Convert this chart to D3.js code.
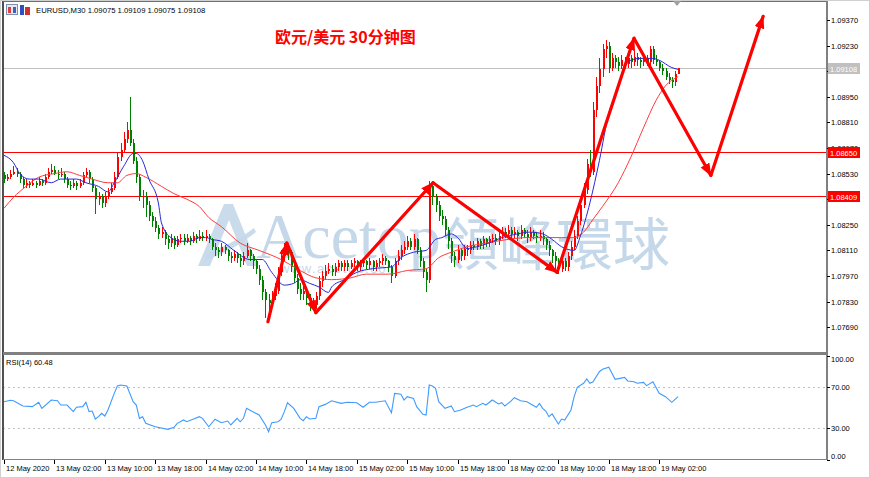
<!DOCTYPE html>
<html>
<head>
<meta charset="utf-8">
<script src="https://cdn.jsdelivr.net/npm/d3@7"></script>
<style>
  body { margin: 0; background: #fff; }
  svg { display: block; font-family: "Liberation Sans", Arial, sans-serif; }
</style>
</head>
<body>
<svg id="chart" width="870" height="478"></svg>
<script>
// ============ 数据 (EURUSD M30, 12 May 18:00 起) ============
const open = [
  1.0852,1.0850,1.0851,1.0853,1.0854,1.0853,1.0850,1.0847,1.0848,1.0847,
  1.0848,1.0847,1.0849,1.0848,1.0851,1.0854,1.0855,1.0853,1.0852,1.0853,
  1.0850,1.0847,1.0846,1.0848,1.0846,1.0848,1.0852,1.0854,1.0850,1.0845,
  1.0839,1.0841,1.0837,1.0841,1.0843,1.0845,1.0851,1.0862,1.0866,1.0872,
  1.0877,1.0870,1.0860,1.0851,1.0840,1.0841,1.0836,1.0830,1.0827,1.0823,
  1.0820,1.0821,1.0817,1.0815,1.0818,1.0814,1.0817,1.0818,1.0816,1.0818,
  1.0816,1.0819,1.0817,1.0819,1.0818,1.0819,1.0817,1.0813,1.0811,1.0810,
  1.0813,1.0811,1.0808,1.0807,1.0809,1.0807,1.0805,1.0808,1.0811,1.0808,
  1.0805,1.0801,1.0795,1.0788,1.0784,1.0782,1.0786,1.0789,1.0799,1.0808,
  1.0812,1.0810,1.0802,1.0796,1.0790,1.0787,1.0789,1.0785,1.0783,1.0781,
  1.0786,1.0794,1.0797,1.0800,1.0801,1.0799,1.0802,1.0804,1.0802,1.0804,
  1.0802,1.0804,1.0805,1.0802,1.0804,1.0805,1.0803,1.0805,1.0802,1.0804,
  1.0805,1.0807,1.0805,1.0802,1.0797,1.0805,1.0808,1.0811,1.0813,1.0816,
  1.0813,1.0817,1.0811,1.0805,1.0799,1.0795,1.0846,1.0840,1.0836,1.0830,
  1.0828,1.0822,1.0816,1.0808,1.0806,1.0811,1.0808,1.0812,1.0811,1.0814,
  1.0813,1.0816,1.0814,1.0817,1.0815,1.0817,1.0818,1.0816,1.0819,1.0821,
  1.0820,1.0822,1.0820,1.0821,1.0819,1.0822,1.0820,1.0818,1.0821,1.0819,
  1.0818,1.0819,1.0817,1.0814,1.0811,1.0808,1.0805,1.0801,1.0805,1.0802,
  1.0808,1.0813,1.0819,1.0827,1.0836,1.0844,1.0858,1.0854,1.0888,1.0901,
  1.0910,1.0921,1.0923,1.0911,1.0916,1.0914,1.0912,1.0915,1.0913,1.0916,
  1.0914,1.0917,1.0915,1.0914,1.0916,1.0914,1.0921,1.0915,1.0914,1.0911,
  1.0909,1.0906,1.0904,1.0903,1.09075
];
const high = [
  1.0854,1.0853,1.0855,1.0857,1.0856,1.0854,1.0851,1.0850,1.0849,1.0850,
  1.0849,1.0851,1.0850,1.0853,1.0856,1.0858,1.0857,1.0855,1.0856,1.0854,
  1.0851,1.0849,1.0850,1.0849,1.0850,1.0854,1.0856,1.0855,1.0851,1.0846,
  1.0843,1.0842,1.0843,1.0845,1.0848,1.0854,1.0865,1.0870,1.0876,1.0881,
  1.0895,1.0872,1.0862,1.0853,1.0844,1.0843,1.0838,1.0832,1.0829,1.0825,
  1.0824,1.0822,1.0819,1.0820,1.0819,1.0819,1.0820,1.0820,1.0820,1.0819,
  1.0821,1.0820,1.0822,1.0821,1.0822,1.0820,1.0818,1.0815,1.0813,1.0815,
  1.0814,1.0812,1.0810,1.0811,1.0810,1.0809,1.0810,1.0815,1.0812,1.0809,
  1.0806,1.0803,1.0797,1.0790,1.0787,1.0789,1.0793,1.0802,1.0811,1.0815,
  1.0814,1.0811,1.0804,1.0798,1.0793,1.0792,1.0791,1.0787,1.0785,1.0788,
  1.0797,1.0800,1.0803,1.0804,1.0803,1.0804,1.0806,1.0805,1.0806,1.0806,
  1.0806,1.0807,1.0806,1.0806,1.0807,1.0806,1.0807,1.0806,1.0806,1.0807,
  1.0809,1.0808,1.0806,1.0803,1.0807,1.0811,1.0814,1.0816,1.0819,1.0818,
  1.0820,1.0818,1.0813,1.0807,1.0801,1.0849,1.0848,1.0842,1.0838,1.0833,
  1.0830,1.0824,1.0818,1.0810,1.0814,1.0812,1.0814,1.0814,1.0816,1.0816,
  1.0818,1.0817,1.0819,1.0818,1.0819,1.0820,1.0820,1.0821,1.0824,1.0823,
  1.0825,1.0824,1.0824,1.0822,1.0825,1.0823,1.0822,1.0824,1.0822,1.0821,
  1.0822,1.0821,1.0818,1.0816,1.0812,1.0810,1.0807,1.0807,1.0807,1.0810,
  1.0816,1.0822,1.0830,1.0839,1.0848,1.0861,1.0866,1.0892,1.0906,1.0916,
  1.0924,1.0926,1.0925,1.0919,1.0918,1.0917,1.0918,1.0917,1.0920,1.0918,
  1.0920,1.0919,1.0917,1.0918,1.0918,1.0923,1.0923,1.0918,1.0915,1.0913,
  1.0911,1.0908,1.0906,1.0909,1.09109
];
const low = [
  1.0848,1.0849,1.0850,1.0852,1.0851,1.0848,1.0845,1.0845,1.0845,1.0846,
  1.0845,1.0846,1.0846,1.0847,1.0850,1.0853,1.0852,1.0850,1.0851,1.0848,
  1.0845,1.0844,1.0845,1.0844,1.0845,1.0847,1.0851,1.0848,1.0843,1.0831,
  1.0836,1.0834,1.0835,1.0839,1.0842,1.0844,1.0850,1.0860,1.0864,1.0870,
  1.0868,1.0858,1.0848,1.0838,1.0834,1.0829,1.0827,1.0824,1.0821,1.0817,
  1.0818,1.0814,1.0812,1.0813,1.0812,1.0813,1.0815,1.0814,1.0815,1.0814,
  1.0815,1.0815,1.0816,1.0816,1.0816,1.0815,1.0811,1.0808,1.0807,1.0808,
  1.0809,1.0805,1.0804,1.0805,1.0804,1.0802,1.0803,1.0807,1.0805,1.0801,
  1.0798,1.0792,1.0784,1.0774,1.0776,1.0780,1.0784,1.0787,1.0797,1.0805,
  1.0806,1.0799,1.0793,1.0787,1.0784,1.0784,1.0781,1.0778,1.0778,1.0779,
  1.0784,1.0791,1.0795,1.0798,1.0797,1.0797,1.0800,1.0800,1.0800,1.0800,
  1.0801,1.0802,1.0800,1.0800,1.0802,1.0801,1.0801,1.0800,1.0800,1.0802,
  1.0803,1.0803,1.0799,1.0793,1.0796,1.0803,1.0806,1.0809,1.0811,1.0811,
  1.0811,1.0809,1.0802,1.0796,1.0788,1.0793,1.0836,1.0832,1.0827,1.0825,
  1.0819,1.0812,1.0804,1.0802,1.0804,1.0805,1.0806,1.0808,1.0809,1.0811,
  1.0811,1.0812,1.0812,1.0813,1.0813,1.0815,1.0814,1.0814,1.0817,1.0818,
  1.0818,1.0818,1.0818,1.0816,1.0817,1.0818,1.0815,1.0816,1.0817,1.0815,
  1.0816,1.0814,1.0811,1.0808,1.0804,1.0801,1.0798,1.0799,1.0800,1.0800,
  1.0806,1.0811,1.0817,1.0825,1.0834,1.0842,1.0851,1.0852,1.0884,1.0897,
  1.0906,1.0916,1.0908,1.0909,1.0911,1.0909,1.0910,1.0910,1.0911,1.0911,
  1.0912,1.0912,1.0911,1.0912,1.0912,1.0912,1.0913,1.0912,1.0909,1.0907,
  1.0904,1.0902,1.0900,1.0901,1.09075
];
const close = [
  1.0850,1.0851,1.0853,1.0854,1.0853,1.0850,1.0847,1.0848,1.0847,1.0848,
  1.0847,1.0849,1.0848,1.0851,1.0854,1.0855,1.0853,1.0852,1.0853,1.0850,
  1.0847,1.0846,1.0848,1.0846,1.0848,1.0852,1.0854,1.0850,1.0845,1.0839,
  1.0841,1.0837,1.0841,1.0843,1.0845,1.0851,1.0862,1.0866,1.0872,1.0877,
  1.0870,1.0860,1.0851,1.0840,1.0841,1.0836,1.0830,1.0827,1.0823,1.0820,
  1.0821,1.0817,1.0815,1.0818,1.0814,1.0817,1.0818,1.0816,1.0818,1.0816,
  1.0819,1.0817,1.0819,1.0818,1.0819,1.0817,1.0813,1.0811,1.0810,1.0813,
  1.0811,1.0808,1.0807,1.0809,1.0807,1.0805,1.0808,1.0811,1.0808,1.0805,
  1.0801,1.0795,1.0788,1.0784,1.0782,1.0786,1.0789,1.0799,1.0808,1.0812,
  1.0810,1.0802,1.0796,1.0790,1.0787,1.0789,1.0785,1.0783,1.0781,1.0786,
  1.0794,1.0797,1.0800,1.0801,1.0799,1.0802,1.0804,1.0802,1.0804,1.0802,
  1.0804,1.0805,1.0802,1.0804,1.0805,1.0803,1.0805,1.0802,1.0804,1.0805,
  1.0807,1.0805,1.0802,1.0797,1.0805,1.0808,1.0811,1.0813,1.0816,1.0813,
  1.0817,1.0811,1.0805,1.0799,1.0795,1.0846,1.0840,1.0836,1.0830,1.0828,
  1.0822,1.0816,1.0808,1.0806,1.0811,1.0808,1.0812,1.0811,1.0814,1.0813,
  1.0816,1.0814,1.0817,1.0815,1.0817,1.0818,1.0816,1.0819,1.0821,1.0820,
  1.0822,1.0820,1.0821,1.0819,1.0822,1.0820,1.0818,1.0821,1.0819,1.0818,
  1.0819,1.0817,1.0814,1.0811,1.0808,1.0805,1.0801,1.0805,1.0802,1.0808,
  1.0813,1.0819,1.0827,1.0836,1.0844,1.0858,1.0854,1.0888,1.0901,1.0910,
  1.0921,1.0923,1.0911,1.0916,1.0914,1.0912,1.0915,1.0913,1.0916,1.0914,
  1.0917,1.0915,1.0914,1.0916,1.0914,1.0921,1.0915,1.0914,1.0911,1.0909,
  1.0906,1.0904,1.0903,1.09075,1.09108
];

// 均线：[K线序号, 价格]
const maFast = [
  [0,1.0863],[3,1.0859],[5,1.0853],[8,1.0850],[11,1.0850],[15,1.0848],[18,1.0850],[23,1.0850],
  [26,1.0848],[30,1.0846],[33,1.0843],[35,1.0848],[38,1.0857],[41,1.0864],[42,1.0864],[44,1.0860],
  [46,1.0850],[49,1.0837],[50,1.0826],[53,1.0818],[56,1.0816],[59,1.0816],[62,1.0818],[64,1.0818],
  [66,1.0817],[69,1.0816],[73,1.0811],[78,1.0806],[82,1.0806],[85,1.0799],[89,1.0792],[92,1.0793],
  [94,1.0795],[97,1.0793],[100,1.0791],[103,1.0788],[104,1.0791],[108,1.0795],[112,1.0799],[117,1.0801],
  [123,1.0802],[126,1.0807],[130,1.0810],[134,1.0811],[137,1.0817],[139,1.0818],[142,1.0820],[144,1.0818],
  [147,1.0812],[150,1.0813],[154,1.0815],[158,1.0818],[163,1.0820],[167,1.0821],[171,1.0820],[174,1.0817],
  [177,1.0813],[181,1.0811],[183,1.0819],[186,1.0837],[189,1.0860],[192,1.0886],[195,1.0900],[197,1.0911],
  [199,1.0915],[202,1.0916],[206,1.0916],[208,1.0915],[212,1.0911],[214,1.0910]
];
const maSlow = [
  [0,1.0834],[3,1.0840],[7,1.0846],[11,1.0851],[16,1.0853],[20,1.0854],[24,1.0852],[28,1.0850],
  [33,1.0848],[36,1.0848],[39,1.0852],[42,1.0853],[45,1.0851],[50,1.0846],[54,1.0842],[58,1.0839],
  [62,1.0835],[65,1.0829],[69,1.0824],[75,1.0815],[81,1.0811],[88,1.0806],[94,1.0800],[99,1.0796],
  [104,1.0795],[110,1.0796],[115,1.0798],[122,1.0798],[128,1.0800],[134,1.0801],[138,1.0807],[142,1.0810],
  [147,1.0813],[153,1.0815],[160,1.0817],[166,1.0818],[172,1.0818],[177,1.0818],[181,1.0818],[184,1.0821],
  [187,1.0828],[190,1.0835],[195,1.0848],[199,1.0862],[203,1.0878],[207,1.0893],[210,1.0901],[214,1.0906]
];

// RSI(14)：[K线序号, 数值]
const rsi = [
  [0,55.6],[2,57],[3,56.5],[6,51.4],[9,50.8],[11,55],[12,49.2],[15,57.2],[17,56.5],[18,52.4],
  [20,52.4],[22,46],[23,50.2],[25,50.8],[26,55],[27,46],[28,46.6],[29,38.9],[30,41.2],[31,44.4],
  [32,41.8],[33,47.6],[35,63.6],[36,70.7],[37,71.6],[39,70.7],[41,55.6],[42,52.4],[43,39.6],[44,41.2],
  [45,34.8],[48,31.5],[52,29],[54,31],[55,34.8],[57,38],[58,36.3],[60,38.7],[62,41.2],[63,39.6],
  [65,31.5],[67,38.7],[69,35.4],[71,37],[72,33.2],[74,39.6],[75,36.3],[76,39.6],[77,49.2],[79,46],
  [81,42.8],[83,33.2],[84,26.7],[85,35.4],[87,36.3],[88,38.7],[89,46],[90,54.6],[92,49.2],[94,39.6],
  [95,37.3],[96,41.2],[97,38.9],[99,39.6],[100,50.8],[102,53],[104,56.5],[107,54],[109,55],[112,54.6],
  [114,50.2],[116,55],[118,55],[121,56.5],[123,45],[124,63.6],[126,62.7],[127,57.2],[128,60.4],[130,58.8],
  [131,50.8],[133,43.5],[134,42.8],[135,71.6],[136,70.7],[137,68.5],[138,55.6],[140,49.2],[142,51.4],[143,46],
  [145,47.6],[147,50.2],[149,52.4],[150,50.8],[152,54],[153,52.4],[155,57.2],[157,53.4],[158,54.6],[159,51.4],
  [161,56.3],[162,59.4],[164,56.5],[166,55.6],[169,50.2],[170,54],[171,49.2],[172,46.6],[173,41.2],[174,43.8],
  [176,34.1],[177,38.9],[178,38],[180,47.6],[181,60.4],[182,69.4],[184,73.3],[185,77.4],[186,73.3],[187,74.8],
  [189,84.4],[190,86.7],[192,88.7],[193,82.9],[194,77.1],[197,79],[198,75.5],[200,74.8],[201,73.3],[203,74.2],
  [204,71],[206,74.8],[208,63.6],[210,60.4],[212,55],[214,60.48]
];

// 手绘走势箭头：[K线序号, 价格]
const arrowPath = [
  [83.8,1.0772],[89.8,1.0815],[99,1.0777],[136.2,1.0848],[175.6,1.0799],[200,1.0927],[224.4,1.0852],[241,1.0939]
];

const priceTicks = [1.09370,1.09230,1.09090,1.08950,1.08810,1.08670,1.08530,1.08390,1.08250,1.08110,1.07970,1.07830,1.07690];
const levels = [1.08650, 1.08409];
const lastPrice = 1.09108;
const rsiTicks = [100, 70, 30, 0];
const timeTickIdx = [0,16,32,48,64,80,96,112,128,144,160,176,192,208];
const timeTickLabels = ['12 May 2020','13 May 02:00','13 May 10:00','13 May 18:00','14 May 02:00','14 May 10:00',
  '14 May 18:00','15 May 02:00','15 May 10:00','15 May 18:00','18 May 02:00','18 May 10:00','18 May 18:00','19 May 02:00'];

// ============ 布局 ============
const L = 3, R = 827, mainTop = 2, mainBottom = 352, rsiTop = 354, rsiBottom = 459;
const UP = '#ff0000', DOWN = '#008000';

const svg = d3.select('#chart');
const x = d3.scaleLinear().domain([0, 208]).range([4, 659.2]);
const y = d3.scaleLinear().domain([1.0769, 1.0937]).range([327.2, 20]);
const yR = d3.scaleLinear().domain([0, 100]).range([459.5, 355.5]);

const defs = svg.append('defs');
defs.append('clipPath').attr('id', 'clipMain')
  .append('rect').attr('x', L).attr('y', mainTop).attr('width', R - L).attr('height', mainBottom - mainTop);
defs.append('clipPath').attr('id', 'clipRsi')
  .append('rect').attr('x', L).attr('y', rsiTop).attr('width', R - L).attr('height', rsiBottom - rsiTop);
defs.append('marker').attr('id', 'arrow')
  .attr('markerUnits', 'userSpaceOnUse')
  .attr('markerWidth', 14).attr('markerHeight', 12)
  .attr('refX', 12).attr('refY', 5).attr('orient', 'auto')
  .append('path').attr('d', 'M0,0 L13,5 L0,10 Z').attr('fill', UP);

// 外框
svg.append('rect').attr('x', 0.5).attr('y', 0.5).attr('width', 869).attr('height', 477)
  .attr('fill', '#fff').attr('stroke', '#d0d0d0');

// ============ 水印 ============
const wm = svg.append('g').attr('clip-path', 'url(#clipMain)').style('fill', '#c4d8ea');
// 标志：大写 A 形山峰
wm.append('path')
  .attr('d', 'M198,266 L224,204 L233,204 L258,266 L247,266 L229,220 L210,266 Z')
  .attr('opacity', 0.9);
wm.append('path')
  .attr('d', 'M204,254 C222,248 238,240 254,228 L256,232 C240,245 224,254 206,260 Z')
  .attr('opacity', 0.9);
wm.append('text').attr('x', 256).attr('y', 258)
  .style('font-family', '"Liberation Serif", "DejaVu Serif", serif')
  .style('font-size', '64px').text('Acetop');
wm.append('text').attr('x', 442).attr('y', 265)
  .style('font-family', '"Noto Sans CJK TC", sans-serif')
  .style('font-size', '57px').style('font-weight', 400).text('領峰環球');
wm.append('text').attr('x', 280).attr('y', 273)
  .style('font-size', '13px').style('letter-spacing', '1.5px').text('www.acetop.com');

// ============ 主图 ============
const main = svg.append('g').attr('clip-path', 'url(#clipMain)');

// 当前价灰线
main.append('line').attr('x1', L).attr('x2', R)
  .attr('y1', Math.round(y(lastPrice)) + 0.5).attr('y2', Math.round(y(lastPrice)) + 0.5)
  .attr('stroke', '#c0c0c0');

// 水平支撑/阻力线
main.selectAll('.level').data(levels).enter().append('line')
  .attr('x1', L).attr('x2', R)
  .attr('y1', d => Math.round(y(d)) + 0.5).attr('y2', d => Math.round(y(d)) + 0.5)
  .attr('stroke', '#ff0000');

// K 线
const idx = d3.range(close.length);
const candles = main.append('g').attr('shape-rendering', 'crispEdges');
candles.selectAll('.wick').data(idx).enter().append('line')
  .attr('x1', i => Math.round(x(i)) + 0.5).attr('x2', i => Math.round(x(i)) + 0.5)
  .attr('y1', i => y(high[i])).attr('y2', i => y(low[i]))
  .attr('stroke', i => close[i] >= open[i] ? UP : DOWN);
candles.selectAll('.body').data(idx).enter().append('rect')
  .attr('x', i => Math.round(x(i)) - 0.5)
  .attr('width', 2)
  .attr('y', i => y(Math.max(open[i], close[i])))
  .attr('height', i => Math.max(1, Math.abs(y(open[i]) - y(close[i]))))
  .attr('fill', i => close[i] >= open[i] ? UP : DOWN);

// 均线
const maLine = d3.line().x(d => x(d[0])).y(d => y(d[1])).curve(d3.curveMonotoneX);
main.append('path').attr('d', maLine(maSlow)).attr('fill', 'none').attr('stroke', '#ff3b3b').attr('stroke-width', 1);
main.append('path').attr('d', maLine(maFast)).attr('fill', 'none').attr('stroke', '#2828d8').attr('stroke-width', 1);

// 走势箭头
const arrows = main.append('g');
for (let k = 0; k < arrowPath.length - 1; k++) {
  const a = arrowPath[k], b = arrowPath[k + 1];
  arrows.append('line')
    .attr('x1', x(a[0])).attr('y1', y(a[1]))
    .attr('x2', x(b[0])).attr('y2', y(b[1]))
    .attr('stroke', UP).attr('stroke-width', 3.2)
    .attr('stroke-linecap', 'round')
    .attr('marker-end', 'url(#arrow)');
}

// 标题
svg.append('text').attr('x', 275).attr('y', 43)
  .style('font-family', '"Noto Sans CJK SC", sans-serif')
  .style('font-size', '16px').style('font-weight', 'bold')
  .style('fill', '#ff0000').text('欧元/美元 30分钟图');

// 左上角品种信息
const icons = svg.append('g');
icons.append('rect').attr('x', 6.5).attr('y', 4.5).attr('width', 11).attr('height', 10).attr('fill', '#e8e8f0').attr('stroke', '#8090b0');
icons.append('rect').attr('x', 8).attr('y', 7).attr('width', 3).attr('height', 6).attr('fill', '#e04040');
icons.append('rect').attr('x', 13).attr('y', 7).attr('width', 3).attr('height', 6).attr('fill', '#4060c0');
icons.append('rect').attr('x', 20).attr('y', 5).attr('width', 4).attr('height', 10).attr('fill', '#3050c0');
icons.append('rect').attr('x', 25).attr('y', 7).attr('width', 5).attr('height', 8).attr('fill', '#d03030');
svg.append('text').attr('x', 36).attr('y', 13)
  .style('font-size', '7.7px').style('fill', '#000')
  .text('EURUSD,M30  1.09075 1.09109 1.09075 1.09108');

// ============ RSI 副图 ============
const sub = svg.append('g').attr('clip-path', 'url(#clipRsi)');
sub.selectAll('.lvl').data([70, 30]).enter().append('line')
  .attr('x1', L).attr('x2', R)
  .attr('y1', d => Math.round(yR(d)) + 0.5).attr('y2', d => Math.round(yR(d)) + 0.5)
  .attr('stroke', '#c0c0c0').attr('stroke-dasharray', '2,3');
const rsiLine = d3.line().x(d => x(d[0])).y(d => yR(d[1]));
sub.append('path').attr('d', rsiLine(rsi)).attr('fill', 'none')
  .attr('stroke', '#3d9bff').attr('stroke-width', 1.1);
svg.append('text').attr('x', 6).attr('y', 365).style('font-size', '7.5px').text('RSI(14) 60.48');

// ============ 边框 ============
const frame = svg.append('g').attr('shape-rendering', 'crispEdges');
frame.append('line').attr('x1', L).attr('x2', L).attr('y1', 1).attr('y2', rsiBottom + 1).attr('stroke', '#505050').attr('stroke-width', 1.5);
frame.append('line').attr('x1', L).attr('x2', R).attr('y1', 1.5).attr('y2', 1.5).attr('stroke', '#707070');
frame.append('line').attr('x1', R).attr('x2', R).attr('y1', 1).attr('y2', rsiBottom + 1).attr('stroke', '#808080').attr('stroke-width', 2);
frame.append('line').attr('x1', L).attr('x2', R).attr('y1', 353).attr('y2', 353).attr('stroke', '#808080').attr('stroke-width', 3);
frame.append('line').attr('x1', L).attr('x2', R).attr('y1', rsiBottom + 0.5).attr('y2', rsiBottom + 0.5).attr('stroke', '#808080').attr('stroke-width', 1.5);

// 价格轴
const pAxis = svg.append('g');
pAxis.selectAll('.pt').data(priceTicks).enter().append('line')
  .attr('x1', R).attr('x2', R + 3)
  .attr('y1', d => Math.round(y(d)) + 0.5).attr('y2', d => Math.round(y(d)) + 0.5)
  .attr('stroke', '#000');
pAxis.selectAll('.pl').data(priceTicks).enter().append('text')
  .attr('x', R + 4).attr('y', d => y(d) + 3)
  .style('font-size', '7.5px').text(d => d.toFixed(5));

// 价位标签
function priceTag(p, bg) {
  const yy = Math.round(y(p));
  pAxis.append('rect').attr('x', R + 1).attr('y', yy - 5).attr('width', 32).attr('height', 11).attr('fill', bg);
  pAxis.append('text').attr('x', R + 3).attr('y', yy + 3.5)
    .style('font-size', '7.5px').style('fill', '#fff').text(p.toFixed(5));
}
levels.forEach(p => priceTag(p, '#ff0000'));
priceTag(lastPrice, '#c0c0c0');

// RSI 轴
const rAxis = svg.append('g');
rAxis.selectAll('.rt').data(rsiTicks).enter().append('line')
  .attr('x1', R).attr('x2', R + 3)
  .attr('y1', d => Math.round(yR(d)) + 0.5).attr('y2', d => Math.round(yR(d)) + 0.5)
  .attr('stroke', '#000');
rAxis.selectAll('.rl').data(rsiTicks).enter().append('text')
  .attr('x', R + 4)
  .attr('y', d => d === 100 ? yR(d) + 6.5 : d === 0 ? yR(d) - 1 : yR(d) + 3)
  .style('font-size', '7.5px').text(d => d.toFixed(2));

// 时间轴
const tAxis = svg.append('g');
tAxis.selectAll('.tt').data(timeTickIdx).enter().append('line')
  .attr('x1', i => Math.round(x(i)) + 0.5).attr('x2', i => Math.round(x(i)) + 0.5)
  .attr('y1', rsiBottom + 1).attr('y2', rsiBottom + 5)
  .attr('stroke', '#000');
tAxis.selectAll('.tl').data(timeTickIdx).enter().append('text')
  .attr('x', i => Math.round(x(i)) + 2).attr('y', 471)
  .style('font-size', '7.5px').text((i, k) => timeTickLabels[k]);

// 图表右移标记
svg.append('path').attr('d', 'M673,1 L681,1 L677,6 Z').attr('fill', '#a0a0a0');
</script>
</body>
</html>
